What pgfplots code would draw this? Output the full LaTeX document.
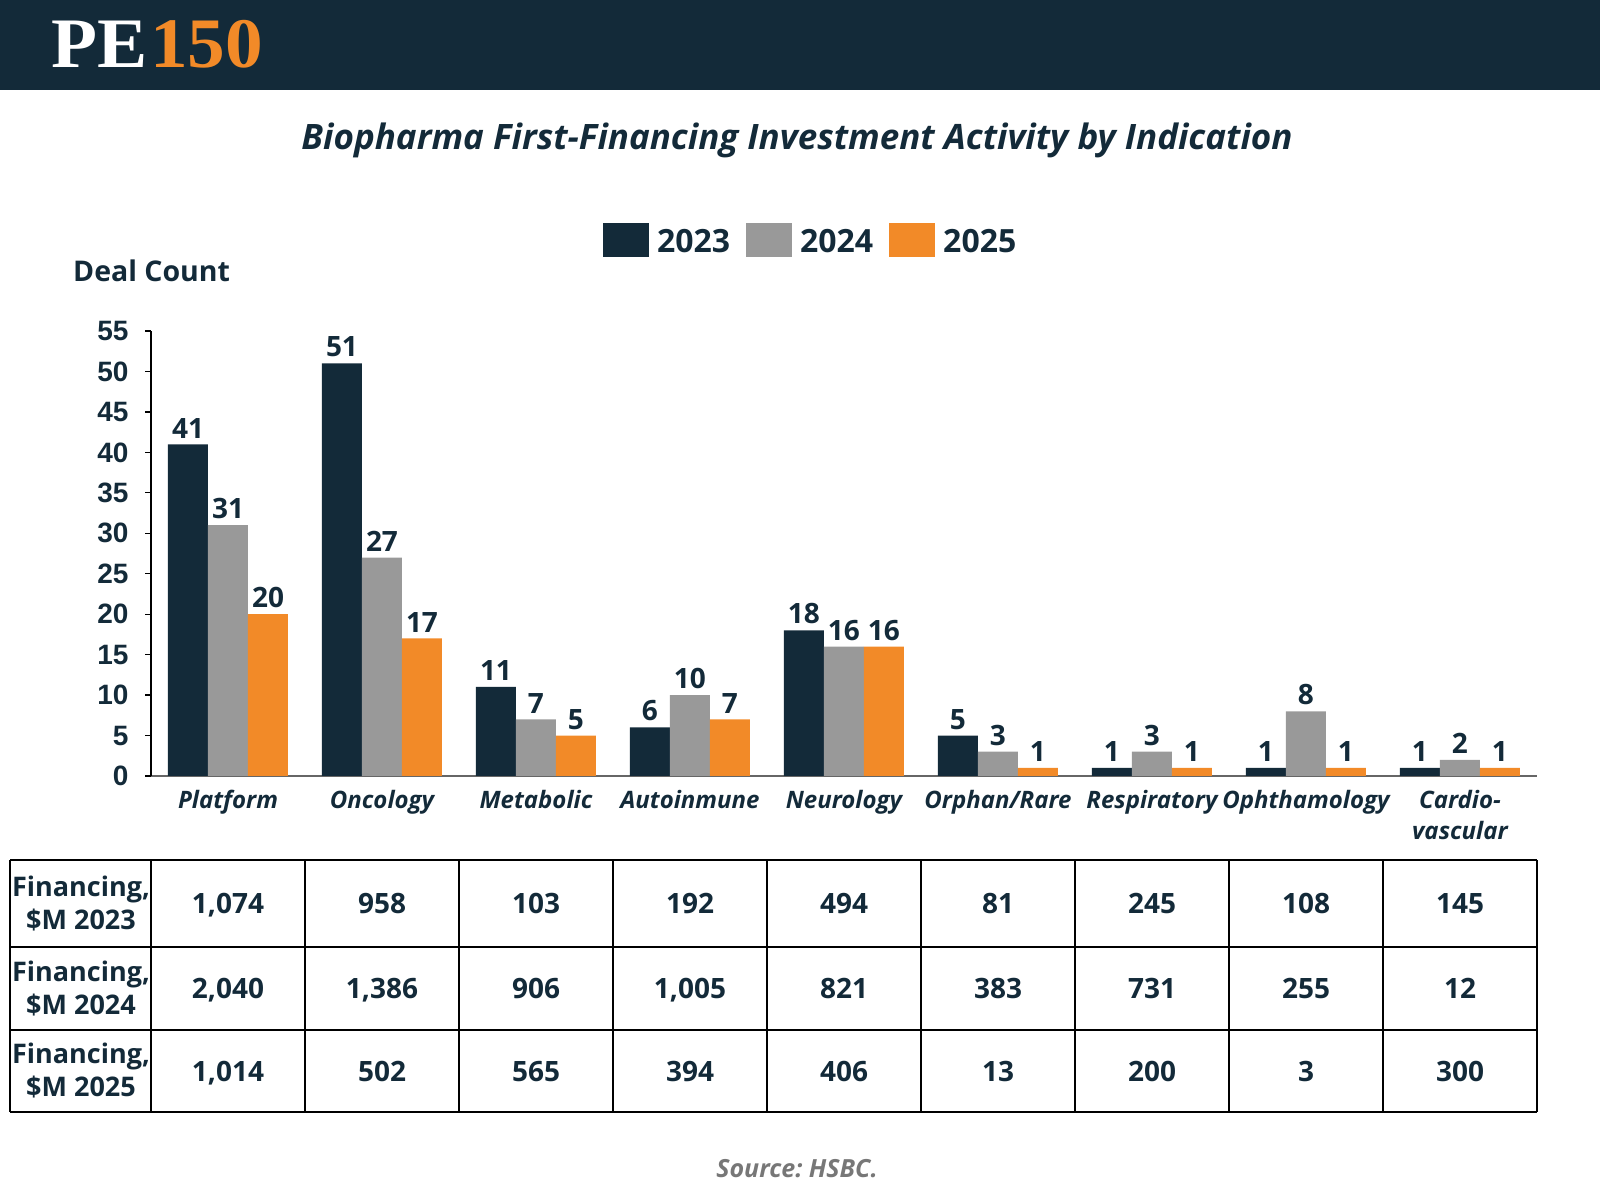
\documentclass[border=0pt]{standalone}
\usepackage{fontspec}
\setmainfont{Open Sans}
\newfontfamily\arialfont{Liberation Sans}
\newfontfamily\logofont{Liberation Serif}
\usepackage{pgfplots}
\pgfplotsset{compat=1.18}
\definecolor{navy}{HTML}{132A39}
\definecolor{midgray}{HTML}{999999}
\definecolor{orng}{HTML}{F28A28}
\definecolor{srcgray}{HTML}{777777}
\frenchspacing

\begin{document}
\begin{tikzpicture}[x=1pt,y=1pt]
\useasboundingbox (0,0) rectangle (1600,1200);
% header band and logo
\fill[navy] (0,1110) rectangle (1600,1200);
\node[anchor=base west, inner sep=0, text=white, xscale=1.06, font=\logofont\bfseries\fontsize{71}{71}\selectfont] at (51,1132) {PE};
\node[anchor=base west, inner sep=0, text=orng, xscale=1.06, font=\logofont\bfseries\fontsize{71}{71}\selectfont] at (150,1132) {150};

\node[anchor=base, text=navy, font=\bfseries\itshape\fontsize{35}{42}\selectfont] at (797,1050)
  {Biopharma First-Financing Investment Activity by Indication};
\node[anchor=base west, inner sep=0, text=navy, font=\bfseries\fontsize{28.5}{34}\selectfont] at (73,918) {Deal Count};

\begin{axis}[
    at={(151pt,424pt)}, anchor=south west,
    scale only axis, width=1386pt, height=445pt,
    ybar=0pt, bar width=40pt,
    legend image code/.code={\fill[#1,draw=none] (0pt,-15.5pt) rectangle (46pt,18.5pt);},
    xmin=-0.5, xmax=8.5, ymin=0, ymax=55,
    enlargelimits=false, clip=false,
    xtick=data,
    xticklabels={Platform,Oncology,Metabolic,Autoinmune,Neurology,Orphan/Rare,Respiratory,Ophthamology,{Cardio-\\vascular}},
    xticklabel style={font=\bfseries\itshape\fontsize{24}{31}\selectfont, text=navy, align=center, yshift=-5pt},
    ytick={0,5,...,55},
    yticklabel style={font=\arialfont\bfseries\fontsize{28}{34}\selectfont, text=navy, xshift=-13pt},
    /pgf/number format/assume math mode=true,
    axis x line*=bottom, axis y line*=left,
    axis line style={-},
    x axis line style={draw=black!60, line width=1.5pt},
    y axis line style={draw=black, line width=1.2pt},
    major x tick style={draw=none},
    major y tick style={draw=black, line width=1.2pt},
    tick align=outside, major tick length=6pt,
    nodes near coords,
    every node near coord/.append style={font=\bfseries\fontsize{28}{34}\selectfont, text=navy, inner ysep=6pt},
    legend columns=3,
    legend style={at={(0.476,1.205)}, anchor=center, draw=none, fill=none,
      font=\bfseries\fontsize{32}{38}\selectfont, text=navy,
      /tikz/every odd column/.append style={column sep=6pt},
      /tikz/every even column/.append style={column sep=14pt}},
]
\addplot[fill=navy, draw=none] coordinates {(0,41) (1,51) (2,11) (3,6) (4,18) (5,5) (6,1) (7,1) (8,1)};
\addplot[fill=midgray, draw=none] coordinates {(0,31) (1,27) (2,7) (3,10) (4,16) (5,3) (6,3) (7,8) (8,2)};
\addplot[fill=orng, draw=none] coordinates {(0,20) (1,17) (2,5) (3,7) (4,16) (5,1) (6,1) (7,1) (8,1)};
\legend{2023,2024,2025}
\end{axis}

% financing table
\begin{scope}[line width=1.8pt, draw=black]
\foreach \yy in {340,253,170,88} \draw (10,\yy) -- (1537,\yy);
\draw (10,340) -- (10,88);
\foreach \k in {0,...,9} \draw ({151+154*\k},340) -- ({151+154*\k},88);
\end{scope}
\foreach \yr/\yy in {2023/296.5,2024/211.5,2025/129}
  \node[text=navy, align=center, font=\bfseries\fontsize{27}{33}\selectfont] at (81,\yy) {Financing,\\\$M \yr};
\tikzset{cell/.style={anchor=base, inner sep=0, text=navy, font=\bfseries\fontsize{28}{32}\selectfont}}
\foreach \v [count=\i from 0] in {{1,074},958,103,192,494,81,245,108,145}
  \node[cell] at ({228+154*\i},286.5) {\v};
\foreach \v [count=\i from 0] in {{2,040},{1,386},906,{1,005},821,383,731,255,12}
  \node[cell] at ({228+154*\i},201.5) {\v};
\foreach \v [count=\i from 0] in {{1,014},502,565,394,406,13,200,3,300}
  \node[cell] at ({228+154*\i},119) {\v};

\node[anchor=base, text=srcgray, font=\bfseries\itshape\fontsize{25}{30}\selectfont] at (797,23) {Source: HSBC.};
\end{tikzpicture}
\end{document}
